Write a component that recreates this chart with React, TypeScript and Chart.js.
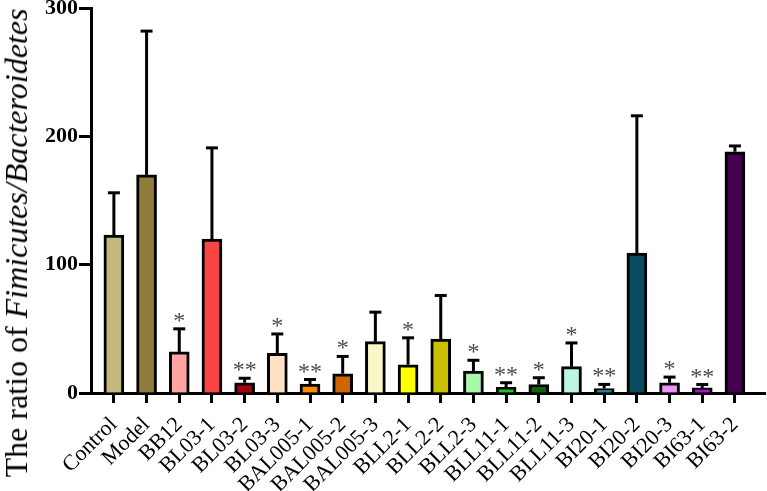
import React, { useEffect, useRef } from "react";
import { Chart, registerables } from "chart.js";

Chart.register(...registerables);

const categories = [
  "Control", "Model", "BB12", "BL03-1", "BL03-2", "BL03-3", "BAL005-1", "BAL005-2",
  "BAL005-3", "BLL2-1", "BLL2-2", "BLL2-3", "BLL11-1", "BLL11-2", "BLL11-3",
  "BI20-1", "BI20-2", "BI20-3", "BI63-1", "BI63-2",
];
const means = [123, 170, 32, 120, 8, 31, 7, 15, 40, 22, 42, 17, 4.5, 6.6, 20.5, 3.5, 109, 8, 4, 188];
const errors = [33, 112, 18, 71, 3.5, 15, 3.5, 13.5, 23, 21, 34, 8.5, 3.5, 5.3, 18.5, 3.2, 107, 4.4, 2.6, 4.5];
const marks = ["", "", "*", "", "**", "*", "**", "*", "", "*", "", "*", "**", "*", "*", "**", "", "*", "**", ""];
const colors = [
  "#c4b97f", "#8e7c3a", "#ffa3a3", "#f94444", "#a50010", "#ffe1c4", "#ff8c00", "#cd6500",
  "#f7f7c8", "#ffff00", "#c9c000", "#a9f9a9", "#1fc61f", "#0b660b", "#bdf5e3",
  "#188a9c", "#064c5f", "#e995f2", "#b40bd8", "#44004f",
];
const yTicks = [0, 100, 200, 300];

const SERIF = "'Liberation Serif', 'Times New Roman', serif";

const errorBarPlugin = {
  id: "errorBars",
  afterDatasetsDraw(chart: any) {
    const { ctx, scales } = chart;
    const xs = scales.x;
    const ys = scales.y;
    ctx.save();
    ctx.strokeStyle = "#000";
    ctx.lineWidth = 3;
    ctx.lineCap = "butt";
    means.forEach((m, i) => {
      const x = xs.getPixelForValue(i);
      const yb = ys.getPixelForValue(m);
      const yt = ys.getPixelForValue(m + errors[i]);
      ctx.beginPath();
      ctx.moveTo(x, yb);
      ctx.lineTo(x, yt);
      ctx.stroke();
      ctx.beginPath();
      ctx.moveTo(x - 6, yt);
      ctx.lineTo(x + 6, yt);
      ctx.stroke();
      if (marks[i]) {
        ctx.fillStyle = "#4a4a4a";
        ctx.font = `24px ${SERIF}`;
        ctx.textAlign = "center";
        ctx.textBaseline = "alphabetic";
        ctx.fillText(marks[i], x, yt - 1);
      }
    });
    ctx.restore();
  },
};

export default function App() {
  const ref = useRef<HTMLCanvasElement | null>(null);
  useEffect(() => {
    if (!ref.current) return;
    const chart = new Chart(ref.current, {
      type: "bar",
      data: {
        datasets: [
          {
            data: means.map((v, i) => ({ x: i, y: v })),
            backgroundColor: colors,
            borderColor: "#000",
            borderWidth: 3,
            barThickness: 20,
            borderSkipped: "bottom",
          },
        ],
      },
      options: {
        responsive: false,
        animation: false,
        layout: { padding: { top: 8, right: 2, left: 0, bottom: 0 } },
        plugins: { legend: { display: false }, tooltip: { enabled: false } },
        scales: {
          x: {
            type: "linear",
            offset: false,
            min: -0.7,
            max: 19.92,
            afterBuildTicks: (scale: any) => {
              scale.ticks = categories.map((_, i) => ({ value: i }));
            },
            afterFit: (scale: any) => {
              scale.height = 98;
              scale.paddingLeft = 0;
              scale.paddingRight = 0;
            },
            ticks: {
              autoSkip: false,
              minRotation: 45,
              maxRotation: 45,
              color: "#000",
              padding: 9,
              font: { family: SERIF, size: 22 },
              callback: (v: any) => categories[v] ?? "",
            },
            grid: {
              offset: false,
              drawOnChartArea: false,
              drawTicks: true,
              tickLength: 10,
              tickWidth: 3,
              tickColor: "#000",
            },
            border: { color: "#000", width: 3 },
          },
          y: {
            type: "linear",
            min: 0,
            max: 300,
            afterBuildTicks: (scale: any) => {
              scale.ticks = yTicks.map((v) => ({ value: v }));
            },
            afterFit: (scale: any) => {
              scale.width = 91;
              scale.paddingTop = 0;
              scale.paddingBottom = 0;
            },
            ticks: {
              color: "#000",
              padding: 1,
              font: { family: SERIF, size: 22, weight: "bold" },
            },
            grid: {
              drawOnChartArea: false,
              drawTicks: true,
              tickLength: 12,
              tickWidth: 3,
              tickColor: "#000",
            },
            border: { color: "#000", width: 3 },
          },
        },
      },
      plugins: [errorBarPlugin],
    } as any);
    return () => chart.destroy();
  }, []);

  return (
    <div style={{ position: "fixed", left: 0, top: 0, width: 767, height: 491, background: "#fff" }}>
      <canvas ref={ref} width={767} height={491} style={{ display: "block" }} />
      <div
        style={{
          position: "absolute",
          left: 16,
          top: 243,
          transform: "translate(-50%, -50%) rotate(-90deg)",
          whiteSpace: "nowrap",
          fontFamily: SERIF,
          fontSize: 32,
          lineHeight: 1,
          color: "#000",
        }}
      >
        The ratio of <i>Fimicutes/Bacteroidetes</i>
      </div>
    </div>
  );
}
